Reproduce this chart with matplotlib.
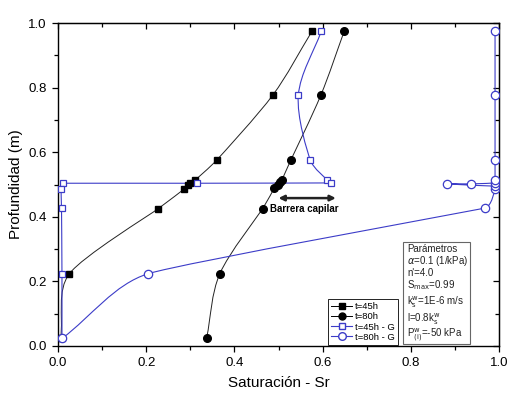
import numpy as np
import matplotlib
matplotlib.use("Agg")
import matplotlib.pyplot as plt
from matplotlib.path import Path
from matplotlib.patches import PathPatch, Rectangle
from matplotlib.ticker import FormatStrFormatter

plt.rcParams["font.family"] = ["Liberation Sans", "DejaVu Sans"]

# --- data -----------------------------------------------------------------
s45 = [0.576, 0.487, 0.360, 0.311, 0.299, 0.294, 0.286, 0.227, 0.026, 0.006]
z45 = [0.975, 0.777, 0.576, 0.514, 0.505, 0.500, 0.486, 0.425, 0.224, 0.025]

s80 = [0.649, 0.596, 0.528, 0.508, 0.503, 0.498, 0.490, 0.464, 0.367, 0.337]
z80 = [0.975, 0.777, 0.576, 0.515, 0.508, 0.500, 0.488, 0.425, 0.224, 0.024]

s45g = [0.597, 0.545, 0.572, 0.611, 0.619, 0.316, 0.012, 0.007, 0.008, 0.009, 0.009]
z45g = [0.975, 0.777, 0.576, 0.514, 0.505, 0.504, 0.504, 0.486, 0.426, 0.224, 0.025]

s80g = [0.010, 0.205, 0.968, 0.991, 0.991, 0.881, 0.936, 0.991, 0.991, 0.991, 0.991, 0.991]
z80g = [0.024, 0.224, 0.427, 0.486, 0.495, 0.502, 0.502, 0.505, 0.515, 0.576, 0.777, 0.975]

labels = ["t=45h", "t=80h", "t=45h - G", "t=80h - G"]

params = ["Parámetros", r"$\alpha$=0.1 (1/kPa)", "n'=4.0",
          r"S$_{\rm max}$=0.99", r"k$^{\rm w}_{\rm s}$=1E-6 m/s",
          r"l=0.8k$^{\rm w}_{\rm s}$", r"P$^{\rm w}_{\rm (i)}$=-50 kPa"]

BLUE = "#3C3CC8"

fig = plt.figure(figsize=(5.32, 3.99), dpi=100)
ax = fig.add_axes([0.109, 0.133, 0.829, 0.809])
ax.set_xlim(0, 1)
ax.set_ylim(0, 1)


def smooth_line(xs, ys, color, lw):
    # spline-like connection (cubic Beziers, tangent from neighbours)
    sc = np.array([441.0, 323.0])
    P = np.column_stack([xs, ys]) * sc
    n = len(P)
    T = []
    for i in range(n):
        a = P[max(i - 1, 0)]
        b = P[min(i + 1, n - 1)]
        t = b - a
        T.append(t / max(np.hypot(*t), 1e-9))
    verts = [P[0] / sc]
    codes = [Path.MOVETO]
    for i in range(n - 1):
        d = np.hypot(*(P[i + 1] - P[i]))
        dp = np.hypot(*(P[i] - P[i - 1])) if i > 0 else d
        dn = np.hypot(*(P[i + 2] - P[i + 1])) if i + 2 < n else d
        c1 = P[i] + T[i] * min(d, dp) / 3
        c2 = P[i + 1] - T[i + 1] * min(d, dn) / 3
        verts += [c1 / sc, c2 / sc, P[i + 1] / sc]
        codes += [Path.CURVE4] * 3
    ax.add_patch(PathPatch(Path(verts, codes), facecolor="none", edgecolor=color,
                           lw=lw, zorder=2))


smooth_line(s45, z45, "#222222", 0.7)
smooth_line(s80, z80, "#222222", 0.7)
smooth_line(s45g, z45g, BLUE, 0.8)
smooth_line(s80g, z80g, BLUE, 0.8)

ax.plot(s45, z45, ls="none", marker="s", ms=5, color="black", zorder=3)
ax.plot(s80, z80, ls="none", marker="o", ms=5.5, color="black", zorder=3)
ax.plot(s45g, z45g, ls="none", marker="s", ms=5, mfc="white", mec=BLUE, mew=0.9, zorder=4)
ax.plot(s80g, z80g, ls="none", marker="o", ms=6, mfc="white", mec=BLUE, mew=0.9, zorder=4)

# legend proxies
h1, = ax.plot([], [], "-s", color="black", lw=0.7, ms=4.5)
h2, = ax.plot([], [], "-o", color="black", lw=0.7, ms=5)
h3, = ax.plot([], [], "-s", color=BLUE, lw=0.8, ms=5, mfc="white")
h4, = ax.plot([], [], "-o", color=BLUE, lw=0.8, ms=5.5, mfc="white")
leg = ax.legend([h1, h2, h3, h4], labels,
                loc="lower left", bbox_to_anchor=(0.61, 0.0), fontsize=6.8,
                frameon=True, fancybox=False, edgecolor="black", framealpha=1,
                handlelength=2.2, handletextpad=0.3, borderpad=0.3,
                labelspacing=0.12, borderaxespad=0.15)
leg.get_frame().set_linewidth(0.6)

# parameter box
ax.add_patch(Rectangle((0.782, 0.006), 0.152, 0.316, fc="white", ec="#666666",
                       lw=0.8, zorder=5))
for txt, yy in zip(params, [0.300, 0.262, 0.226, 0.190, 0.136, 0.084, 0.036]):
    ax.text(0.792, yy, txt, fontsize=7.0, ha="left", va="center",
            color="#222222", zorder=6)

ax.annotate("", xy=(0.500, 0.458), xytext=(0.630, 0.458),
            arrowprops=dict(arrowstyle="<|-|>", color="#222222", lw=1.8,
                            mutation_scale=8, shrinkA=0, shrinkB=0))
ax.text(0.481, 0.425, "Barrera capilar", fontsize=7, fontweight="bold",
        ha="left", va="center")

ticks = np.arange(0, 1.01, 0.2)
minor = np.arange(0.1, 1.0, 0.2)
ax.set_xticks(ticks)
ax.set_yticks(ticks)
ax.set_xticks(minor, minor=True)
ax.set_yticks(minor, minor=True)
ax.xaxis.set_major_formatter(FormatStrFormatter("%.1f"))
ax.yaxis.set_major_formatter(FormatStrFormatter("%.1f"))
ax.tick_params(which="both", direction="out", labelsize=9.5, width=0.9)
ax.tick_params(which="major", length=4.5)
ax.tick_params(which="minor", length=3)

# mirrored top/right axes with inward ticks
top = ax.secondary_xaxis("top")
right = ax.secondary_yaxis("right")
for sec in (top, right):
    sec.set_ticks(ticks)
    sec.set_ticks(minor, minor=True)
    sec.tick_params(which="both", direction="in", width=0.9,
                    labeltop=False, labelright=False)
    sec.tick_params(which="major", length=4.5)
    sec.tick_params(which="minor", length=3)
for s in ax.spines.values():
    s.set_linewidth(1.0)

ax.set_xlabel("Saturación - Sr", fontsize=11, labelpad=5)
ax.set_ylabel("Profundidad (m)", fontsize=11, labelpad=4)

fig.savefig("out.png", dpi=100)
